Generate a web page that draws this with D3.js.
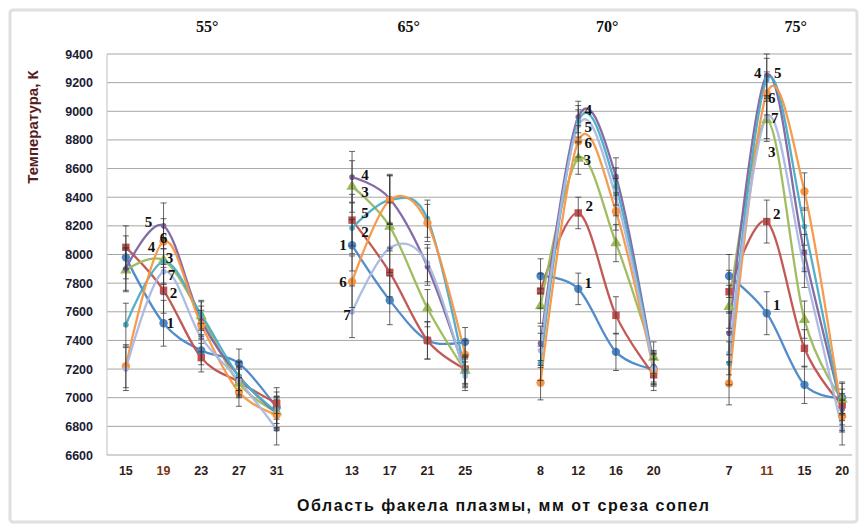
<!DOCTYPE html>
<html>
<head>
<meta charset="utf-8">
<script src="https://cdn.jsdelivr.net/npm/d3@7"></script>
<style>
  body { margin: 0; background: #fff; }
  svg { display: block; }
</style>
</head>
<body>
<svg id="chart"></svg>
<script>
// categories along x (blank slots separate the angle groups)
var categories = ["15", "19", "23", "27", "31", "", "13", "17", "21", "25", "", "8", "12", "16", "20", "", "7", "11", "15", "20"];
var groupTitles = ["55°", "65°", "70°", "75°"];
var groupCenters = [2, 7.5, 12.5, 17.5];
var yTicks = [6600, 6800, 7000, 7200, 7400, 7600, 7800, 8000, 8200, 8400, 8600, 8800, 9000, 9200, 9400];

// temperature, K for each series (null = gap between groups)
var s1 = [7980, 7520, 7330, 7240, 6930, null, 8065, 7680, 7400, 7390, null, 7850, 7760, 7320, 7200, null, 7850, 7590, 7090, 7000];
var s2 = [8050, 7750, 7280, 7110, 6960, null, 8240, 7875, 7400, 7200, null, 7745, 8290, 7575, 7160, null, 7740, 8230, 7345, 6950];
var s3 = [7890, 7960, 7570, 7100, 6900, null, 8475, 8195, 7625, 7190, null, 7640, 8670, 8080, 7280, null, 7635, 8940, 7545, 6990];
var s4 = [7900, 8200, 7540, 7150, 6890, null, 8540, 8390, 7915, 7180, null, 7380, 8960, 8545, 7220, null, 7450, 9250, 8010, 6920];
var s5 = [7510, 7950, 7580, 7150, 6900, null, 8185, 8380, 8250, 7170, null, 7240, 8930, 8475, 7210, null, 7240, 9220, 8195, 6880];
var s6 = [7220, 8090, 7510, 7040, 6880, null, 7810, 8380, 8220, 7300, null, 7105, 8790, 8300, 7190, null, 7100, 9125, 8440, 6870];
var s7 = [7200, 7880, 7420, 7120, 6780, null, 7600, 8045, 7940, 7150, null, 7330, 8900, 8400, 7200, null, 7310, 8960, 7900, 6780];
// error bar half-width per category
var errors = [150, 160, 100, 100, 110, null, 180, 170, 130, 100, null, 120, 110, 130, 110, null, 150, 150, 130, 110];

// number labels: text, category index, value, dx
var pointLabels = [
    ["5", 1, 8227, -15], ["4", 1, 8052, -12], ["6", 1, 8115, 0], ["3", 1, 7976, 6],
    ["7", 1, 7857, 8], ["2", 1, 7731, 10], ["1", 1, 7522, 7],
    ["4", 6, 8555, 13], ["3", 6, 8437, 13], ["5", 6, 8290, 13], ["2", 6, 8157, 13],
    ["1", 6, 8066, -9], ["6", 6, 7808, -9], ["7", 6, 7578, -5],
    ["4", 12, 9010, 10], ["5", 12, 8895, 10], ["6", 12, 8780, 10], ["3", 12, 8665, 9],
    ["2", 12, 8339, 11], ["1", 12, 7801, 10],
    ["4", 17, 9267, -9], ["5", 17, 9267, 11], ["6", 17, 9093, 5], ["7", 17, 8953, 8],
    ["3", 17, 8716, 5], ["2", 17, 8283, 10], ["1", 17, 7647, 10]
];

var series = [
    { name: "1", values: s1, color: "#4a86c8", symbol: d3.symbolCircle },
    { name: "2", values: s2, color: "#c0504d", symbol: d3.symbolSquare },
    { name: "3", values: s3, color: "#9bbb59", symbol: d3.symbolTriangle },
    { name: "4", values: s4, color: "#8064a2", symbol: d3.symbolCircle },
    { name: "5", values: s5, color: "#4bacc6", symbol: d3.symbolCircle },
    { name: "6", values: s6, color: "#f79646", symbol: d3.symbolCircle },
    { name: "7", values: s7, color: "#a9b8e2", symbol: d3.symbolCircle }
];

var width = 865, height = 529;
var svg = d3.select("#chart").attr("width", width).attr("height", height);

svg.append("rect").attr("width", width).attr("height", height).attr("fill", "#fff");
svg.append("rect")
    .attr("x", 10).attr("y", 10).attr("width", 847).attr("height", 512).attr("rx", 3)
    .attr("fill", "none").attr("stroke", "#e0e0e0").attr("stroke-width", 3);

var x = d3.scaleBand().domain(d3.range(categories.length)).range([107, 861]);
var y = d3.scaleLinear().domain([6600, 9400]).range([455, 54]);
var cx = i => x(i) + x.bandwidth() / 2;

// gridlines
svg.append("g").selectAll("line").data(yTicks).enter().append("line")
    .attr("x1", 107).attr("x2", 852)
    .attr("y1", d => y(d)).attr("y2", d => y(d))
    .attr("stroke", "#a6a6a6").attr("stroke-width", 1);

svg.append("line").attr("x1", 107).attr("x2", 107).attr("y1", y(9400)).attr("y2", y(6600))
    .attr("stroke", "#bfbfbf");

// y axis labels
var yAxis = d3.axisLeft(y).tickValues(yTicks).tickFormat(d3.format("d")).tickSize(0).tickPadding(0);
var gy = svg.append("g").attr("transform", "translate(93,0)").call(yAxis);
gy.select(".domain").remove();
gy.selectAll("text")
    .attr("font-family", "Liberation Sans, Arial, sans-serif")
    .attr("font-size", 12.5).attr("font-weight", "bold").attr("fill", "#1c1c36");

// x axis labels
var xAxis = d3.axisBottom(x).tickFormat(i => categories[i]).tickSize(0).tickPadding(0);
var gx = svg.append("g").attr("transform", "translate(0,466)").call(xAxis);
gx.select(".domain").remove();
gx.selectAll("text")
    .attr("font-family", "Liberation Sans, Arial, sans-serif")
    .attr("font-size", 12.5).attr("font-weight", "bold")
    .attr("fill", i => (i === 1 || i === 17) ? "#7a3410" : "#2e2018");

// axis titles
svg.append("text")
    .attr("transform", "translate(38,127) rotate(-90)")
    .attr("text-anchor", "middle")
    .attr("font-family", "Liberation Sans, Arial, sans-serif")
    .attr("font-size", 15).attr("font-weight", "bold").attr("fill", "#5a1c1c")
    .text("Температура, К");

svg.append("text")
    .attr("x", 503).attr("y", 511)
    .attr("text-anchor", "middle")
    .attr("font-family", "Liberation Sans, Arial, sans-serif")
    .attr("font-size", 16).attr("font-weight", "bold").attr("fill", "#111")
    .attr("textLength", 412).attr("lengthAdjust", "spacing")
    .text("Область факела плазмы, мм от среза сопел");

// group titles
var titleDx = [6, 0, 10, 10];
svg.append("g").selectAll("text").data(groupTitles).enter().append("text")
    .attr("x", (d, i) => cx(0) + groupCenters[i] * x.step() + titleDx[i])
    .attr("y", 32)
    .attr("text-anchor", "middle")
    .attr("font-family", "Liberation Serif, Times New Roman, serif")
    .attr("font-size", 16).attr("font-weight", "bold").attr("fill", "#111")
    .text(d => d);

// smoothed lines
var line = d3.line()
    .defined(d => d.v !== null)
    .x(d => cx(d.i))
    .y(d => y(d.v))
    .curve(d3.curveCardinal.tension(0));

var toPoints = s => s.values.map((v, i) => ({ i: i, v: v }));

svg.append("g").selectAll("path").data(series).enter().append("path")
    .attr("d", s => line(toPoints(s)))
    .attr("fill", "none")
    .attr("stroke", s => s.color)
    .attr("stroke-width", 2.3)
    .attr("stroke-opacity", 0.95);

// markers
var sym = d3.symbol();
series.forEach(s => {
    svg.append("g").selectAll("path")
        .data(toPoints(s).filter(d => d.v !== null))
        .enter().append("path")
        .attr("transform", d => "translate(" + cx(d.i) + "," + y(d.v) + ")")
        .attr("d", sym.type(s.symbol).size(s.name === "1" || s.name === "2" || s.name === "3" || s.name === "6" ? 55 : 25)())
        .attr("fill", s.color);
});

// error bars
var eb = svg.append("g").attr("stroke", "#333").attr("stroke-width", 1).attr("stroke-opacity", 0.75);
series.forEach(s => {
    toPoints(s).filter(d => d.v !== null).forEach(d => {
        var e = errors[d.i];
        var px = cx(d.i);
        eb.append("line").attr("x1", px).attr("x2", px).attr("y1", y(d.v + e)).attr("y2", y(d.v - e));
        eb.append("line").attr("x1", px - 3).attr("x2", px + 3).attr("y1", y(d.v + e)).attr("y2", y(d.v + e));
        eb.append("line").attr("x1", px - 3).attr("x2", px + 3).attr("y1", y(d.v - e)).attr("y2", y(d.v - e));
    });
});

// series number labels
svg.append("g").selectAll("text").data(pointLabels).enter().append("text")
    .attr("x", d => cx(d[1]) + d[3])
    .attr("y", d => y(d[2]))
    .attr("dy", "0.35em")
    .attr("text-anchor", "middle")
    .attr("font-family", "Liberation Serif, Times New Roman, serif")
    .attr("font-size", 15).attr("font-weight", "bold").attr("fill", "#111")
    .text(d => d[0]);
</script>
</body>
</html>
